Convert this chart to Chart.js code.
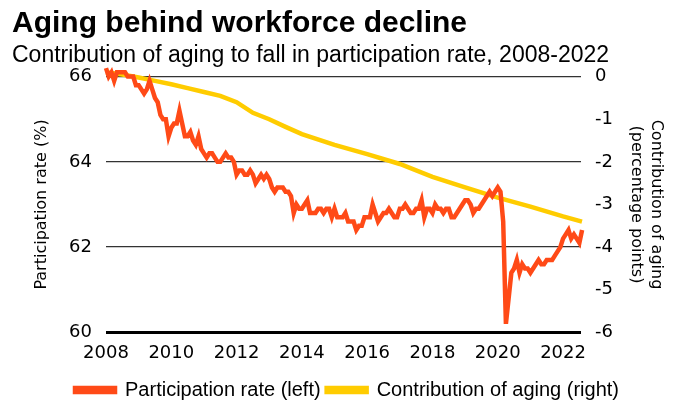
<!DOCTYPE html>
<html>
<head>
<meta charset="utf-8">
<script src="https://cdn.jsdelivr.net/npm/chart.js@4.4.1/dist/chart.umd.min.js"></script>
<style>
  html, body { margin: 0; padding: 0; background: #fff; }
  #wrap { width: 690px; height: 410px; }
</style>
</head>
<body>
<div id="wrap"><canvas id="chart" width="690" height="410"></canvas></div>
<script>
"use strict";

// ── Data ──────────────────────────────────────────────────
const startYear = 2008;           // first month: Jan 2008
// Participation rate (%), monthly, Jan 2008 – Aug 2022
const participation = [
  66.2, 66.0, 66.1, 65.9, 66.1, 66.1, 66.1, 66.1, 66.0, 66.0, 66.0, 65.8, // 2008
  65.8, 65.7, 65.6, 65.7, 65.9, 65.7, 65.5, 65.4, 65.1, 65.0, 65.0, 64.6, // 2009
  64.8, 64.9, 64.9, 65.2, 64.9, 64.6, 64.6, 64.7, 64.5, 64.4, 64.6, 64.3, // 2010
  64.2, 64.1, 64.2, 64.2, 64.1, 64.0, 64.0, 64.1, 64.2, 64.1, 64.1, 64.0, // 2011
  63.7, 63.8, 63.8, 63.7, 63.7, 63.8, 63.7, 63.5, 63.6, 63.7, 63.6, 63.7, // 2012
  63.6, 63.4, 63.3, 63.4, 63.4, 63.4, 63.3, 63.3, 63.2, 62.8, 63.0, 62.9, // 2013
  62.9, 63.0, 63.1, 62.8, 62.8, 62.8, 62.9, 62.9, 62.8, 62.9, 62.9, 62.7, // 2014
  62.9, 62.7, 62.7, 62.7, 62.8, 62.6, 62.6, 62.6, 62.4, 62.5, 62.5, 62.7, // 2015
  62.7, 62.7, 63.0, 62.8, 62.6, 62.7, 62.8, 62.8, 62.9, 62.8, 62.7, 62.7, // 2016
  62.9, 62.9, 63.0, 62.9, 62.8, 62.8, 62.9, 62.9, 63.1, 62.7, 62.9, 62.9, // 2017
  62.8, 63.0, 62.9, 62.9, 62.8, 62.9, 62.9, 62.7, 62.7, 62.8, 62.9, 63.0, // 2018
  63.1, 63.1, 63.0, 62.8, 62.9, 62.9, 63.0, 63.1, 63.2, 63.3, 63.2, 63.3, // 2019
  63.4, 63.3, 62.6, 60.2, 60.8, 61.4, 61.5, 61.7, 61.4, 61.6, 61.5, 61.5, // 2020
  61.4, 61.5, 61.6, 61.7, 61.6, 61.6, 61.7, 61.7, 61.7, 61.8, 61.9, 62.0, // 2021
  62.2, 62.3, 62.4, 62.2, 62.3, 62.2, 62.1, 62.4                          // 2022
];

// Contribution of aging (percentage points), read at these dates
const agingDates = [2008.0, 2008.5, 2009.0, 2009.5, 2010.0, 2010.5, 2011.0, 2011.5,
                    2012.0, 2012.5, 2013.0, 2013.5, 2014.0, 2015.0, 2016.0, 2017.0,
                    2018.0, 2019.0, 2020.0, 2021.0, 2022.0, 2022.58];
const agingValues = [0.10, 0.05, -0.02, -0.10, -0.18, -0.27, -0.36, -0.45,
                     -0.60, -0.85, -1.00, -1.18, -1.35, -1.60, -1.82, -2.05,
                     -2.35, -2.60, -2.84, -3.05, -3.28, -3.40];

const xTicks = [2008, 2010, 2012, 2014, 2016, 2018, 2020, 2022];

// ── Helpers ───────────────────────────────────────────────
const RED    = "#ff4a17";
const YELLOW = "#ffcc00";
const NARROW = "'Liberation Sans Narrow', 'Arial Narrow', 'Liberation Sans', sans-serif";
const AXISF  = "'DejaVu Sans', Verdana, sans-serif";

const partPoints  = participation.map((v, i) => ({ x: startYear + i / 12, y: v }));
const agingPoints = agingValues.map((v, i) => ({ x: agingDates[i], y: v }));

// ── Chart ─────────────────────────────────────────────────
new Chart(document.getElementById("chart").getContext("2d"), {
  type: "line",
  data: {
    datasets: [
      {
        label: "Participation rate (left)",
        data: partPoints,
        yAxisID: "y",
        borderColor: RED,
        backgroundColor: RED,
        borderWidth: 4.5,
        pointRadius: 0,
        tension: 0,
        clip: false,
        order: 1,
      },
      {
        label: "Contribution of aging (right)",
        data: agingPoints,
        yAxisID: "y1",
        borderColor: YELLOW,
        backgroundColor: YELLOW,
        borderWidth: 4.5,
        pointRadius: 0,
        tension: 0,
        clip: false,
        order: 2,
      },
    ],
  },
  options: {
    responsive: false,
    animation: false,
    layout: { padding: { left: 12, right: 8, top: 6, bottom: 0 } },
    plugins: {
      title: {
        display: true,
        text: "Aging behind workforce decline",
        align: "start",
        color: "#000",
        font: { family: NARROW, size: 30, weight: "bold" },
        padding: { top: 0, bottom: 0 },
      },
      subtitle: {
        display: true,
        text: "Contribution of aging to fall in participation rate, 2008-2022",
        align: "start",
        color: "#000",
        font: { family: NARROW, size: 23 },
        padding: { top: 0, bottom: 7 },
      },
      legend: {
        position: "bottom",
        labels: {
          color: "#000",
          boxWidth: 40,
          boxHeight: 4,
          padding: 6,
          font: { family: NARROW, size: 20 },
        },
      },
      tooltip: { enabled: false },
    },
    scales: {
      x: {
        type: "linear",
        min: 2008,
        max: 2022.55,
        afterBuildTicks: (s) => { s.ticks = xTicks.map((v) => ({ value: v })); },
        grid: { display: false, drawTicks: false },
        border: { display: false },
        ticks: {
          color: "#000",
          padding: 10,
          maxRotation: 0,
          font: { family: AXISF, size: 18 },
          callback: (v) => String(v),
        },
      },
      y: {
        position: "left",
        min: 60,
        max: 66,
        afterFit: (s) => { s.width = 94; },
        ticks: {
          stepSize: 2,
          color: "#000",
          padding: 14,
          font: { family: AXISF, size: 18 },
        },
        grid: {
          drawTicks: false,
          color: (c) => (c.tick && c.tick.value === 60 ? "#000" : "#333"),
          lineWidth: (c) => (c.tick && c.tick.value === 60 ? 3 : 1.3),
        },
        border: { display: false },
        title: {
          display: true,
          text: "Participation rate (%)",
          color: "#000",
          font: { family: AXISF, size: 16 },
          padding: { top: 20, bottom: 0 },
        },
      },
      y1: {
        position: "right",
        min: -6,
        max: 0,
        afterFit: (s) => { s.width = 101; },
        ticks: {
          stepSize: 1,
          color: "#000",
          padding: 14,
          font: { family: AXISF, size: 18 },
        },
        grid: { display: false, drawTicks: false },
        border: { display: false },
        title: {
          display: true,
          text: ["Contribution of aging", "(percentage points)"],
          color: "#000",
          font: { family: AXISF, size: 16, lineHeight: 1.25 },
          padding: { top: 16, bottom: 0 },
        },
      },
    },
  },
});
</script>
</body>
</html>
